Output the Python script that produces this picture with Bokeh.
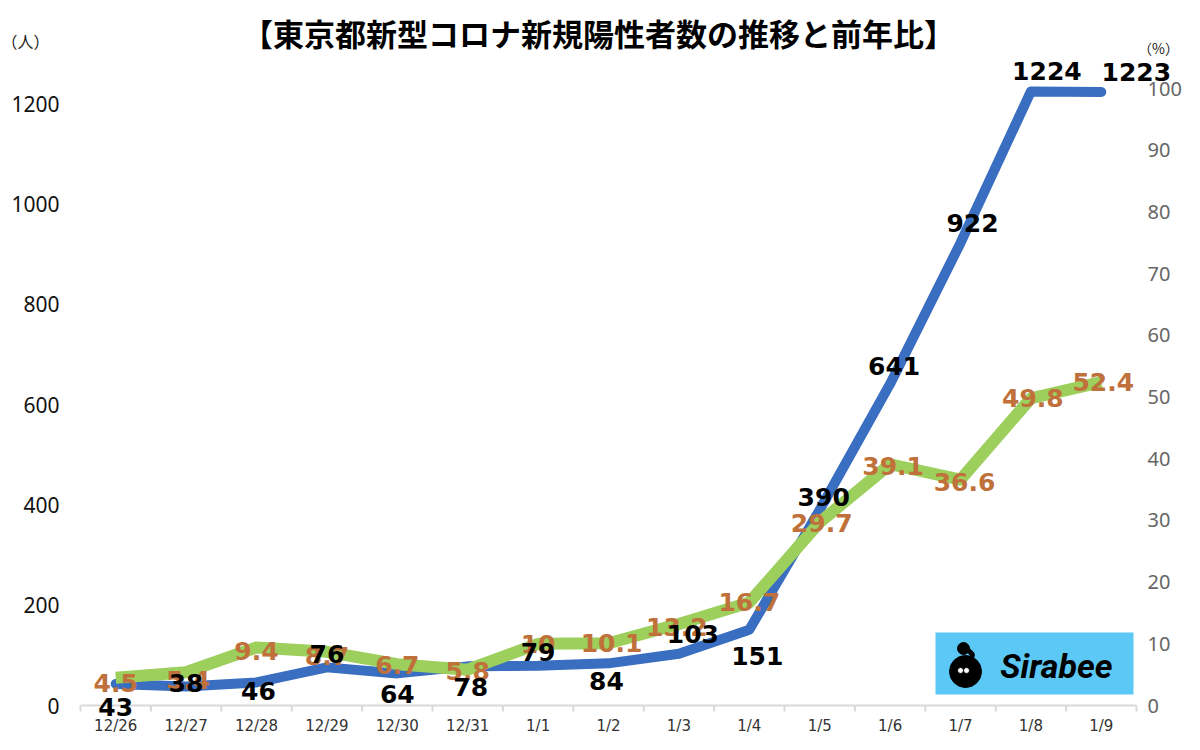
from bokeh.plotting import figure
from bokeh.models import Range1d, BoxAnnotation
from bokeh.core.properties import value
from bokeh.embed import file_html
from bokeh.resources import INLINE

# ---- data ----
dates = ["12/26", "12/27", "12/28", "12/29", "12/30", "12/31", "1/1", "1/2",
         "1/3", "1/4", "1/5", "1/6", "1/7", "1/8", "1/9"]
cases = [43, 38, 46, 76, 64, 78, 79, 84, 103, 151, 390, 641, 922, 1224, 1223]
ratio = [4.5, 5.4, 9.4, 8.7, 6.7, 5.8, 10, 10.1, 13.2, 16.7, 29.7, 39.1, 36.6, 49.8, 52.4]
left_ticks = [0, 200, 400, 600, 800, 1000, 1200]
right_ticks = [0, 10, 20, 30, 40, 50, 60, 70, 80, 90, 100]
title = "【東京都新型コロナ新規陽性者数の推移と前年比】"
left_unit = "（人）"
right_unit = "（%）"

# label offsets in screen pixels (positive dy = down)
case_dx = [0, 0, 2, 0, 0, 3, 0, -2, 14, 8, 4, 4, 12, 16, 35]
case_dy = [23, -3, 9, -13, 21, 21, -14, 18, -20, 26, -13, -18, -20, -20, -20]
ratio_dx = [0, 2, 0, 0, 0, 0, 0, 3, -2, 0, 2, 3, 4, 2, 2]
ratio_dy = [5, 8, 3, 4, 1, 1, 0, 0, 3, 0, 1, 2, 2, 0, 0]

BLUE = "#3A6EC0"
GREEN = "#9CCF5C"
ORANGE = "#C0703A"
FONT = "Noto Sans"
LBLFONT = "DejaVu Sans"

W, H = 1184, 734
FL, FR = 80, 1136          # category band (px)
Y0, PXL, PXR = 705, 602 / 1200, 617 / 100   # zero line & px per unit (left / right)
n = len(dates)
PXX = (FR - FL) / n


def ux(px):
    return (px - FL) / PXX - 0.5


def ur(py):
    return (Y0 - py) / PXR


def ul(py):
    return (Y0 - py) / PXL


xs = list(range(n))

p = figure(width=W, height=H, output_backend="svg", toolbar_location=None,
           x_range=Range1d(ux(0), ux(W)), y_range=Range1d(ul(H), ul(0)),
           min_border=0)
p.extra_y_ranges = {"pct": Range1d(ur(H), ur(0))}
p.outline_line_color = None
p.grid.visible = False
p.axis.visible = False
p.background_fill_color = "white"
p.border_fill_color = "white"

# left value axis labels
p.text([ux(59)] * len(left_ticks), left_ticks, text=[str(t) for t in left_ticks],
       text_align="right", text_baseline="middle", text_color="#111111",
       text_font=value(FONT), text_font_size="21px")
# right value axis labels
p.text([ux(1147)] * len(right_ticks), right_ticks, text=[str(t) for t in right_ticks],
       y_range_name="pct", text_align="left", text_baseline="middle", text_color="#666666",
       text_font=value(FONT), text_font_size="20px")

# category axis
bounds = [i - 0.5 for i in range(n + 1)]
p.segment(x0=[-0.5], y0=[0], x1=[n - 0.5], y1=[0], line_color="#D9D9D9", line_width=2)
p.segment(x0=bounds, y0=[0] * len(bounds), x1=bounds, y1=[-6 / PXL] * len(bounds),
          line_color="#D9D9D9", line_width=2)
p.text(xs, [0] * n, text=dates, y_offset=20, text_align="center", text_baseline="middle",
       text_color="#333333", text_font=value(LBLFONT), text_font_size="15px")

# lines
p.line(xs, cases, line_color=BLUE, line_width=10, line_cap="round", line_join="round")
p.line(xs, ratio, line_color=GREEN, line_width=12, line_join="round", y_range_name="pct")

# data labels
ratio_txt = [("%g" % r) for r in ratio]
case_txt = [str(c) for c in cases]
p.text(xs, ratio, text=ratio_txt, x_offset=ratio_dx, y_offset=ratio_dy, y_range_name="pct",
       text_align="center", text_baseline="middle", text_color=ORANGE,
       text_font=value(LBLFONT), text_font_style="bold", text_font_size="25px")
p.text(xs, cases, text=case_txt, x_offset=case_dx, y_offset=case_dy,
       text_align="center", text_baseline="middle", text_color="black",
       text_font=value(LBLFONT), text_font_style="bold", text_font_size="25px")

# title and unit labels
p.text([ux(598)], [ur(32)], text=[title], y_range_name="pct",
       text_align="center", text_baseline="middle", text_font=value("Noto Sans CJK JP"),
       text_font_style="bold", text_font_size="31px", text_color="black")
p.text([ux(25)], [ur(40)], text=[left_unit], y_range_name="pct",
       text_align="center", text_baseline="middle", text_font=value("Noto Sans CJK JP"),
       text_font_size="16px", text_color="#222222")
p.text([ux(1158)], [ur(47)], text=[right_unit], y_range_name="pct",
       text_align="center", text_baseline="middle", text_font=value("Noto Sans CJK JP"),
       text_font_size="14px", text_color="#222222")

# Sirabee logo
p.add_layout(BoxAnnotation(left=ux(935), right=ux(1133), bottom=ur(694), top=ur(632),
                           y_range_name="pct", fill_color="#5BC8F5", fill_alpha=1.0,
                           line_color=None, level="underlay"))
p.line([ux(966), ux(972), ux(970)], [ur(648), ur(654), ur(662)], y_range_name="pct",
       line_color="black", line_width=5, line_cap="round")
p.scatter([ux(963)], [ur(648)], y_range_name="pct", size=12, color="black")
p.scatter([ux(965)], [ur(671)], y_range_name="pct", size=32, color="black")
p.scatter([ux(960), ux(966)], [ur(670), ur(670)], y_range_name="pct", size=6,
          fill_color="white", line_color="black", line_width=1)
p.text([ux(1056)], [ur(665)], text=["Sirabee"], y_range_name="pct", text_align="center",
       text_baseline="middle", text_font=value("Roboto"), text_font_style="bold italic",
       text_font_size="34px", text_color="black")

open("out.html", "w").write(file_html(p, INLINE))
